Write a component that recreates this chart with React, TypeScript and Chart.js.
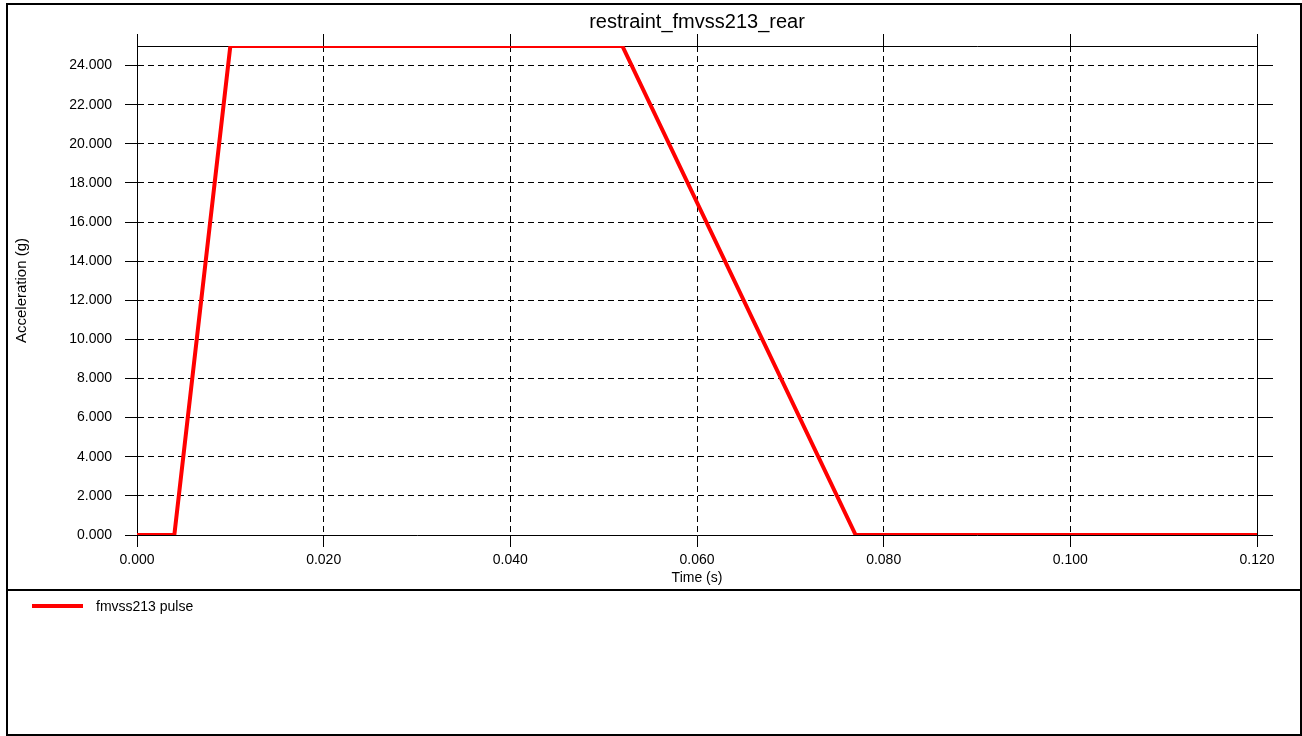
import React, { useEffect, useRef } from 'react';
import { Chart, registerables } from 'chart.js';

Chart.register(...registerables);

const chartTitle = 'restraint_fmvss213_rear';
const seriesLabel = 'fmvss213 pulse';
const xTitle = 'Time (s)';
const yTitle = 'Acceleration (g)';

const timeValues = [0, 0.004, 0.01, 0.052, 0.077, 0.12];
const accelValues = [0, 0, 25, 25, 0, 0];

const xTicks = [0, 0.02, 0.04, 0.06, 0.08, 0.1, 0.12];
const yTicks = [0, 2, 4, 6, 8, 10, 12, 14, 16, 18, 20, 22, 24];

const FONT = '"Liberation Sans", Arial, Helvetica, sans-serif';
const LINE_COLOR = '#ff0000';

export default function App() {
  const canvasRef = useRef<HTMLCanvasElement | null>(null);

  useEffect(() => {
    if (!canvasRef.current) return;
    const points = timeValues.map((t, i) => ({ x: t, y: accelValues[i] }));
    const setX = (scale: any) => {
      scale.ticks = xTicks.map((v) => ({ value: v }));
    };
    const setY = (scale: any) => {
      scale.ticks = yTicks.map((v) => ({ value: v }));
    };
    const chart = new Chart(canvasRef.current, {
      type: 'line',
      data: {
        datasets: [
          {
            label: seriesLabel,
            data: points,
            borderColor: LINE_COLOR,
            backgroundColor: LINE_COLOR,
            borderWidth: 4,
            pointRadius: 0,
            tension: 0,
            fill: false,
          },
        ],
      },
      options: {
        animation: false,
        responsive: false,
        layout: { padding: 0 },
        plugins: {
          legend: { display: false },
          tooltip: { enabled: false },
          title: {
            display: true,
            text: chartTitle,
            fullSize: false,
            color: '#000',
            font: { family: FONT, size: 20, weight: 'normal', lineHeight: 1.2 },
            padding: { top: 10, bottom: 0 },
          },
        },
        scales: {
          x: {
            type: 'linear',
            position: 'bottom',
            min: 0,
            max: 0.12,
            afterBuildTicks: setX,
            afterFit: (s: any) => {
              s.height = 55;
            },
            ticks: {
              autoSkip: false,
              maxRotation: 0,
              padding: 5,
              color: '#000',
              font: { family: FONT, size: 14 },
              callback: (v: any) => Number(v).toFixed(3),
            },
            grid: {
              color: '#000',
              lineWidth: 1,
              drawTicks: true,
              tickLength: 12,
              tickColor: '#000',
              tickWidth: 1,
            },
            border: { display: true, color: '#000', width: 1, dash: [6, 4] },
            title: {
              display: true,
              text: xTitle,
              color: '#000',
              font: { family: FONT, size: 14 },
              padding: { top: 0, bottom: 3 },
            },
          },
          xTop: {
            type: 'linear',
            position: 'top',
            min: 0,
            max: 0.12,
            afterBuildTicks: setX,
            afterFit: (s: any) => {
              s.height = 12;
            },
            ticks: { display: false },
            grid: {
              drawOnChartArea: false,
              drawTicks: true,
              tickLength: 12,
              tickColor: '#000',
              tickWidth: 1,
              color: '#000',
            },
            border: { display: true, color: '#000', width: 1 },
          },
          y: {
            type: 'linear',
            position: 'left',
            min: 0,
            max: 25,
            afterBuildTicks: setY,
            afterFit: (s: any) => {
              s.width = 137;
            },
            ticks: {
              autoSkip: false,
              padding: 13,
              color: '#000',
              font: { family: FONT, size: 14 },
              callback: (v: any) => Number(v).toFixed(3),
            },
            grid: {
              color: '#000',
              lineWidth: 1,
              drawTicks: true,
              tickLength: 12,
              tickColor: '#000',
              tickWidth: 1,
            },
            border: { display: true, color: '#000', width: 1, dash: [6, 4] },
            title: {
              display: true,
              text: yTitle,
              color: '#000',
              font: { family: FONT, size: 15 },
              padding: { top: 13, bottom: 0 },
            },
          },
          yRight: {
            type: 'linear',
            position: 'right',
            min: 0,
            max: 25,
            afterBuildTicks: setY,
            afterFit: (s: any) => {
              s.width = 45;
            },
            ticks: { display: false },
            grid: {
              drawOnChartArea: false,
              drawTicks: true,
              tickLength: 16,
              tickColor: '#000',
              tickWidth: 1,
              color: '#000',
            },
            border: { display: true, color: '#000', width: 1 },
          },
        },
      },
    } as any);
    return () => chart.destroy();
  }, []);

  return (
    <div style={{ position: 'absolute', left: 0, top: 0, width: 1302, height: 736, background: '#fff', overflow: 'hidden' }}>
      <canvas ref={canvasRef} width={1302} height={590} style={{ position: 'absolute', left: 0, top: 0, display: 'block' }} />
      <div
        style={{
          position: 'absolute',
          left: 6,
          top: 3,
          width: 1296,
          height: 733,
          border: '2px solid #000',
          boxSizing: 'border-box',
          pointerEvents: 'none',
        }}
      />
      <div style={{ position: 'absolute', left: 6, top: 589, width: 1296, height: 2, background: '#000' }} />
      <div style={{ position: 'absolute', left: 32, top: 604, width: 51, height: 4, background: LINE_COLOR }} />
      <div
        style={{
          position: 'absolute',
          left: 96,
          top: 597,
          height: 18,
          lineHeight: '18px',
          fontFamily: FONT,
          fontSize: 14,
          color: '#000',
          whiteSpace: 'nowrap',
        }}
      >
        {seriesLabel}
      </div>
    </div>
  );
}
